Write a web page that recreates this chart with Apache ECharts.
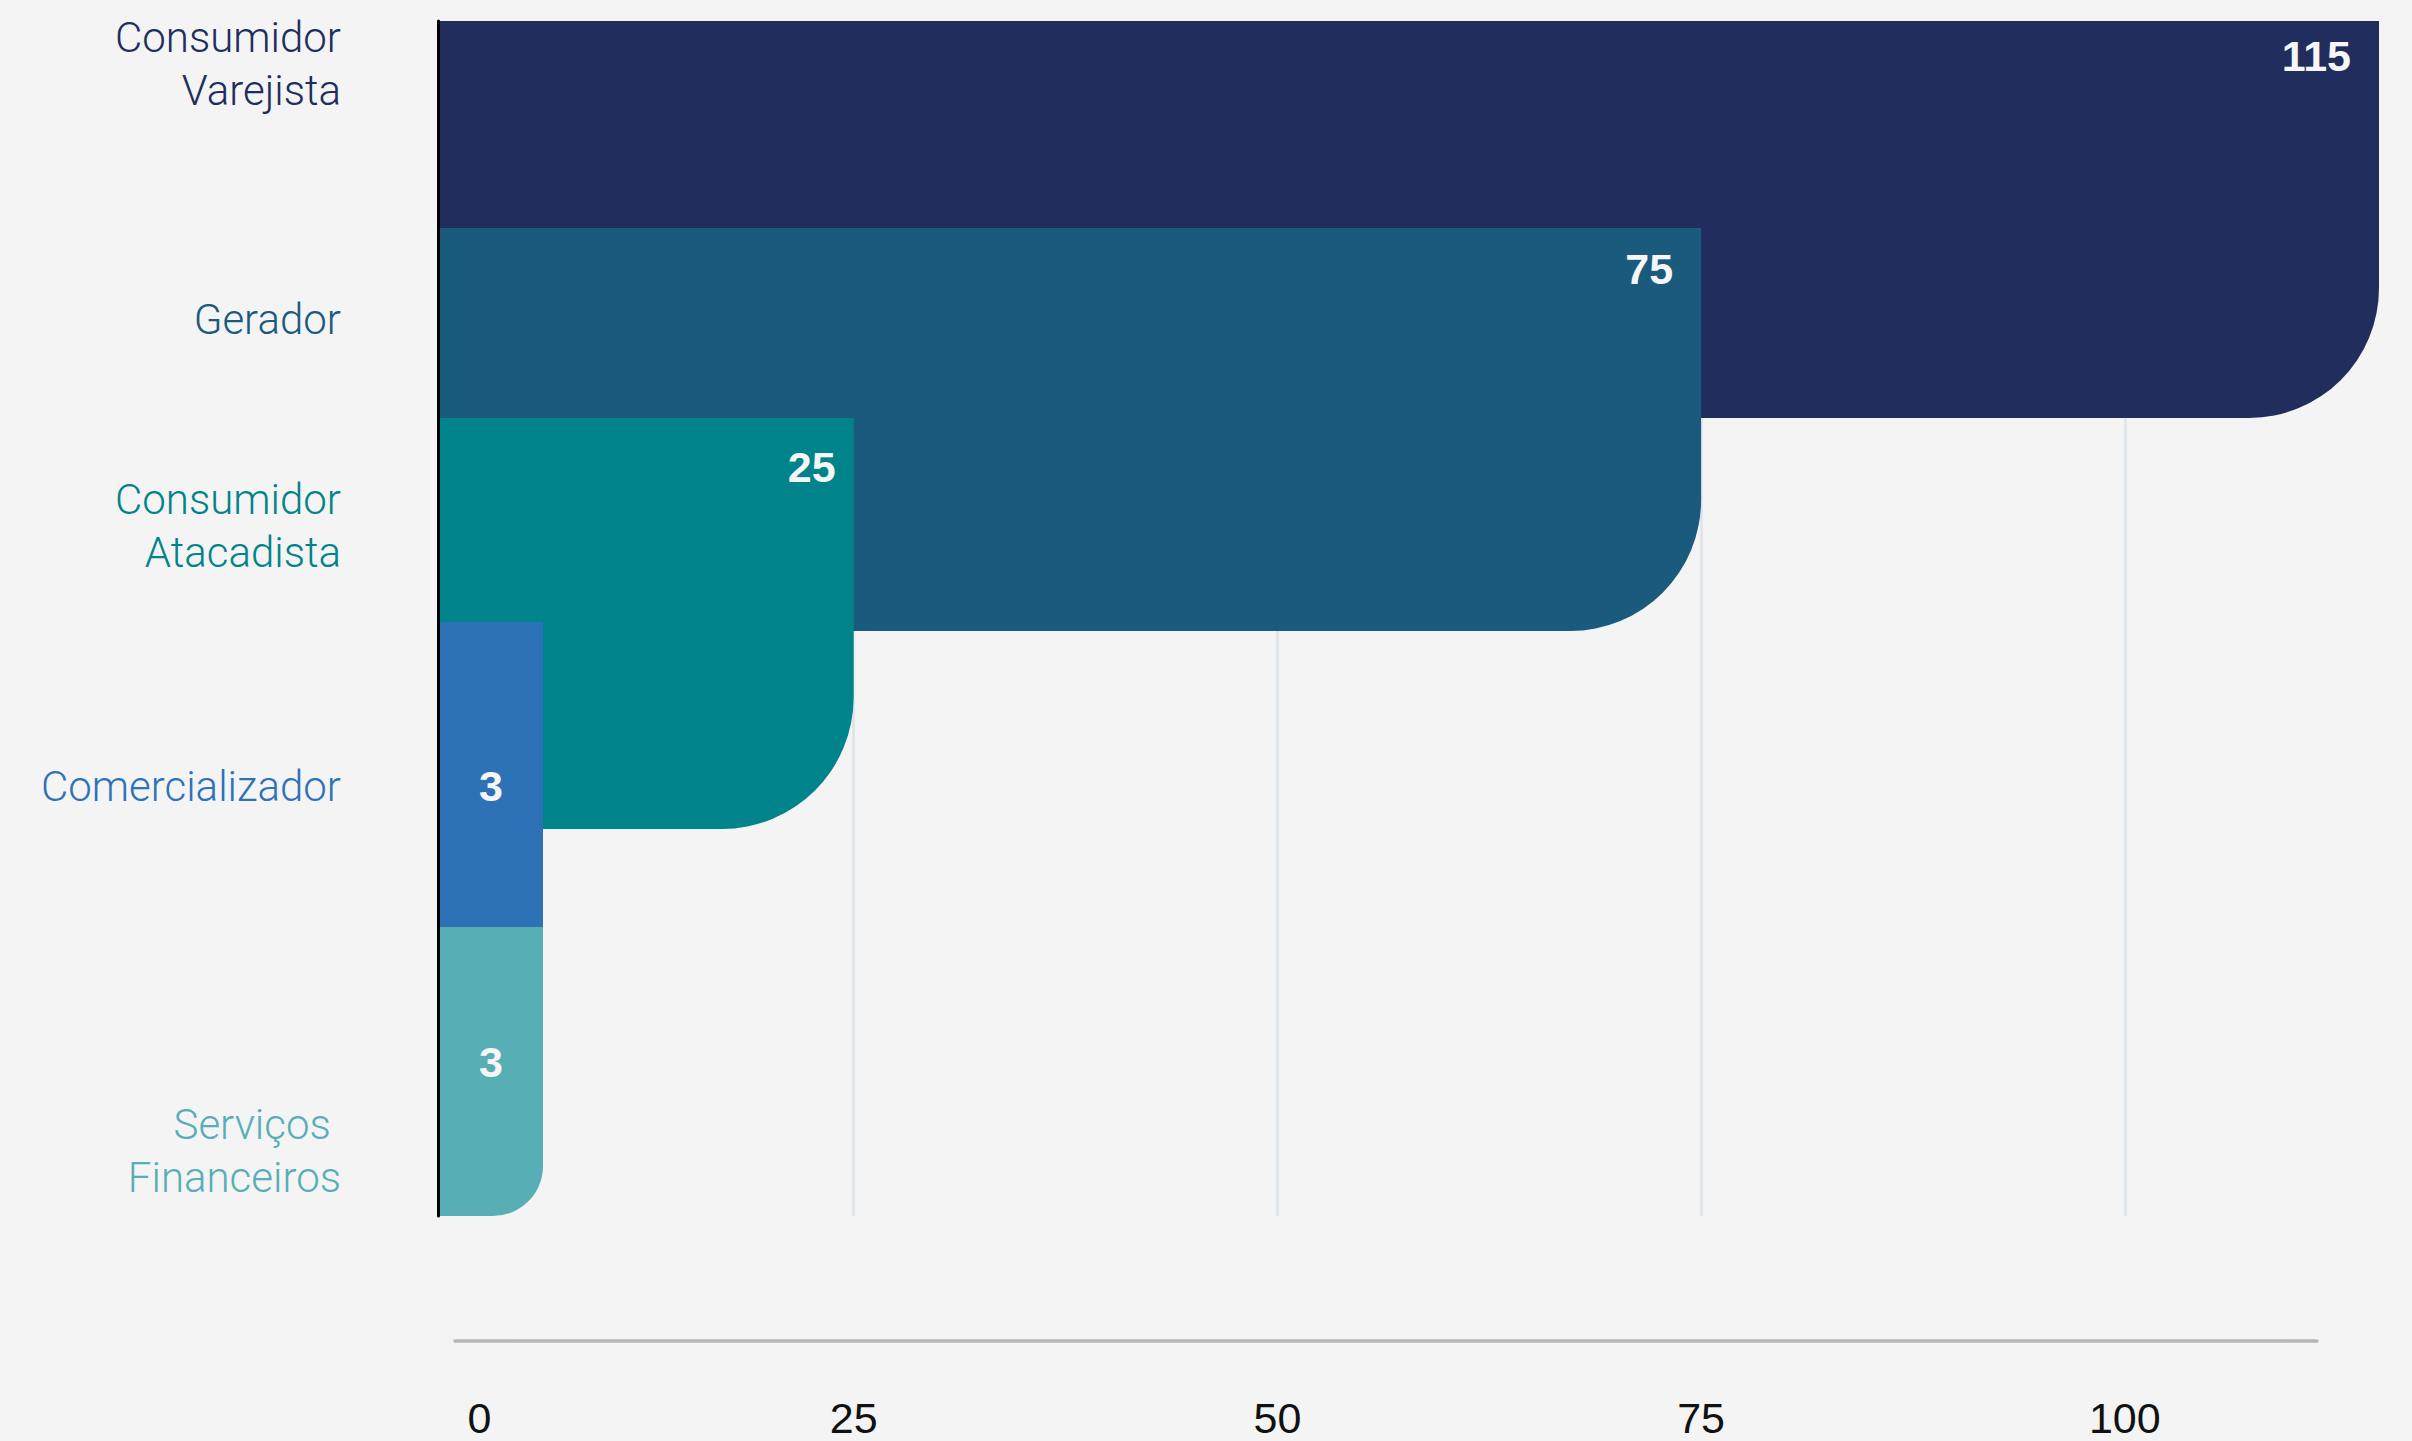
<!DOCTYPE html>
<html>
<head>
<meta charset="utf-8">
<script src="https://cdn.jsdelivr.net/npm/echarts@6/dist/echarts.min.js"></script>
<style>
html,body{margin:0;padding:0;background:#f4f4f4;}
#chart{width:2412px;height:1441px;}
</style>
</head>
<body>
<div id="chart"></div>
<script>
// ---- data ----
const categories = ['Consumidor\nVarejista', 'Gerador', 'Consumidor\nAtacadista', 'Comercializador', 'Serviços \nFinanceiros'];
const values = [115, 75, 25, 3, 3];
const xTicks = [0, 25, 50, 75, 100];

// ---- styles / layout (not data) ----
const colors = ['#212d5c', '#1a5a7c', '#00838a', '#2d72b6', '#57afb5'];
// vertical extents expressed in percent of plot height
const ROWS = [
  { top: 0,     bottom: 33.22, r: 130, nameY: 3.56,  valueY: 2.97,  inset: 28 },
  { top: 17.32, bottom: 51.05, r: 131, nameY: 25.02, valueY: 20.79, inset: 28 },
  { top: 33.22, bottom: 67.62, r: 132, nameY: 42.26, valueY: 37.32, inset: 18 },
  { top: 50.29, bottom: 82,    r: 50,  nameY: 64.02, valueY: 64.02, inset: 0 },
  { top: 75.82, bottom: 100,   r: 50,  nameY: 94.56, valueY: 87.11, inset: 0 }
];
const BAR_INSET = 9;      // gap from zero line to bar start (px)
const MIN_BAR_PX = 104;   // minimum drawn bar width (px)
const NAME_GAP = 89;      // distance from zero line to category label right edge
const NUM_FONT = '"Liberation Sans", Arial, Helvetica, sans-serif';
const NAME_FONT = 'Roboto, "Noto Sans", sans-serif';

function renderItem(params, api) {
  const i = params.dataIndex;
  const row = ROWS[i];
  const v = api.value(0);
  const a = api.coord([0, row.top]);
  const b = api.coord([v, row.bottom]);
  const x0 = a[0] + BAR_INSET;
  const y0 = a[1];
  const rawW = b[0] - x0;
  const w = Math.max(rawW, MIN_BAR_PX);
  const h = b[1] - y0;
  const narrow = rawW < MIN_BAR_PX;
  const vy = api.coord([0, row.valueY])[1];
  const ny = api.coord([0, row.nameY])[1];
  return {
    type: 'group',
    children: [
      { type: 'rect', shape: { x: x0, y: y0, width: w, height: h, r: [0, 0, row.r, 0] },
        style: { fill: colors[i] } },
      { type: 'text', style: {
          text: String(v), x: narrow ? x0 + w / 2 : x0 + w - row.inset, y: vy,
          align: narrow ? 'center' : 'right', verticalAlign: 'middle',
          fill: '#f6f6f6', fontSize: 43, fontWeight: 'bold', fontFamily: NUM_FONT } },
      { type: 'text', style: {
          text: categories[i], x: a[0] - NAME_GAP, y: ny,
          align: 'right', verticalAlign: 'middle', lineHeight: 53,
          fill: colors[i], fontSize: 42, fontWeight: 300, fontFamily: NAME_FONT } }
    ]
  };
}

const chart = echarts.init(document.getElementById('chart'), null, { renderer: 'svg' });
chart.setOption({
  backgroundColor: '#f4f4f4',
  animation: false,
  grid: [
    { left: 430, right: 33, top: 21, bottom: 225, containLabel: false, outerBoundsMode: 'none' },
    { left: 455, right: 95, top: 1339, height: 2, containLabel: false, outerBoundsMode: 'none' }
  ],
  xAxis: [
    {
      type: 'value', gridIndex: 0,
      min: xTicks[0], max: Math.max(...values), interval: xTicks[1] - xTicks[0],
      axisLine: { show: false }, axisTick: { show: false },
      splitLine: { show: true, showMinLine: false, showMaxLine: false,
        lineStyle: { color: '#dde3eb', width: 2.5 } },
      axisLabel: {
        show: true, showMaxLabel: false, margin: 180,
        color: '#111', fontSize: 43, fontFamily: NUM_FONT,
        formatter: function (v) {
          if (xTicks.indexOf(v) < 0) return '';
          return v === xTicks[0] ? '{first|' + v + '}' : String(v);
        },
        rich: { first: { padding: [0, 0, 0, 99], color: '#111', fontSize: 43, fontFamily: NUM_FONT } }
      }
    },
    {
      type: 'value', gridIndex: 1, min: 0, max: 1, position: 'top',
      axisLine: { show: true, lineStyle: { color: '#b6b6b6', width: 3.5 } },
      axisTick: { show: false }, axisLabel: { show: false }, splitLine: { show: false }
    }
  ],
  yAxis: [
    {
      type: 'value', gridIndex: 0, min: 0, max: 100, inverse: true, offset: -8, z: 10,
      axisLine: { show: true, lineStyle: { color: '#000', width: 3 } },
      axisTick: { show: false }, axisLabel: { show: false }, splitLine: { show: false }
    },
    { type: 'value', gridIndex: 1, show: false }
  ],
  series: [{
    type: 'custom',
    coordinateSystem: 'cartesian2d',
    xAxisIndex: 0, yAxisIndex: 0,
    renderItem: renderItem,
    encode: { x: 0, y: 1 },
    data: values.map(function (v, i) { return [v, i]; })
  }]
});
</script>
</body>
</html>
